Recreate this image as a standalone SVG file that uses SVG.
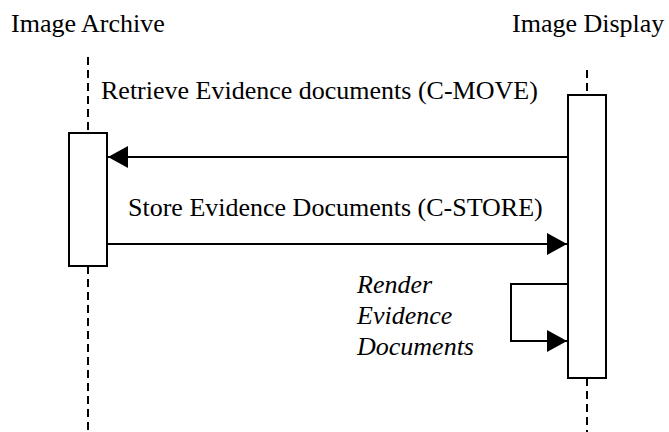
<svg xmlns="http://www.w3.org/2000/svg" width="669" height="432" viewBox="0 0 669 432">
<style>
  .t { font-family: 'Liberation Serif', 'DejaVu Serif', serif; font-size: 26px; fill: #000; }
  .it { font-style: italic; }
  .box { fill: #fff; stroke: #000; stroke-width: 2; }
  .life { stroke: #000; stroke-width: 2; stroke-dasharray: 8 5; fill: none; }
  .msg { stroke: #000; stroke-width: 2; fill: none; }
</style>
<defs>
  <marker id="ah" markerUnits="userSpaceOnUse" markerWidth="20" markerHeight="22" refX="20" refY="11" orient="auto">
    <path d="M0,0 L20,11 L0,22 z" fill="#000"/>
  </marker>
</defs>
<rect width="669" height="432" fill="#fff"/>
<g id="lifelines">
  <line class="life" x1="88" y1="57" x2="88" y2="133"/>
  <line class="life" x1="88" y1="266" x2="88" y2="432"/>
  <line class="life" x1="587" y1="70" x2="587" y2="95"/>
  <line class="life" x1="587" y1="378" x2="587" y2="432"/>
</g>
<g id="image-archive">
  <text class="t" font-family="Liberation Serif, serif" x="11" y="32">Image Archive</text>
  <rect class="box" x="69" y="133" width="38" height="133"/>
</g>
<g id="image-display">
  <text class="t" font-family="Liberation Serif, serif" x="512" y="32">Image Display</text>
  <rect class="box" x="568" y="95" width="38" height="283"/>
</g>
<g id="connectors">
  <line class="msg" x1="568" y1="157" x2="108" y2="157" marker-end="url(#ah)"/>
  <text class="t" font-family="Liberation Serif, serif" x="101" y="99">Retrieve Evidence documents (C-MOVE)</text>
  <line class="msg" x1="107" y1="244" x2="567" y2="244" marker-end="url(#ah)"/>
  <text class="t" font-family="Liberation Serif, serif" x="128" y="216">Store Evidence Documents (C-STORE)</text>
  <polyline class="msg" points="568,284 511,284 511,341 567,341" marker-end="url(#ah)"/>
  <text class="t it" font-family="Liberation Serif, serif" x="357" y="293">Render</text>
  <text class="t it" font-family="Liberation Serif, serif" x="357" y="324">Evidence</text>
  <text class="t it" font-family="Liberation Serif, serif" x="357" y="355">Documents</text>
</g>
</svg>
